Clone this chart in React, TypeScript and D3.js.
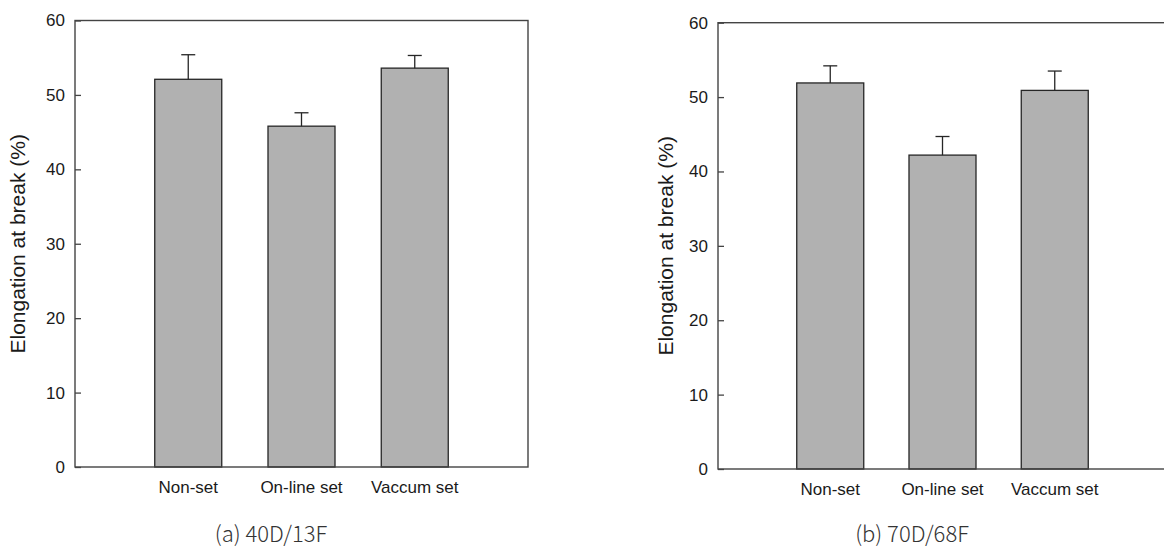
import React, { useEffect, useRef } from 'react';
import * as d3 from 'd3';

const categories = ['Non-set', 'On-line set', 'Vaccum set'];
const meansA = [52.1, 45.8, 53.6];
const errorsA = [3.3, 1.8, 1.7];
const meansB = [51.9, 42.2, 50.9];
const errorsB = [2.3, 2.5, 2.6];
const yTicks = [0, 10, 20, 30, 40, 50, 60];
const yTitle = 'Elongation at break (%)';
const captions = ['(a) 40D/13F', '(b) 70D/68F'];

const W = 1164;
const H = 547;

type Panel = {
  left: number; right: number; top: number; bottom: number;
  means: number[]; errors: number[]; caption: string; captionX: number; titleX: number;
};

const panels: Panel[] = [
  { left: 75, right: 528, top: 20.5, bottom: 467, means: meansA, errors: errorsA, caption: captions[0], captionX: 271, titleX: 25 },
  { left: 718, right: 1167, top: 22.7, bottom: 469, means: meansB, errors: errorsB, caption: captions[1], captionX: 912, titleX: 673 },
];

const App = () => {
  const svgRef = useRef<SVGSVGElement>(null);

  useEffect(() => {
    const svg = d3.select(svgRef.current);
    svg.selectAll('*').remove();
    const font = '"Liberation Sans", Arial, sans-serif';

    panels.forEach(p => {
      const g = svg.append('g');
      const x = d3.scalePoint<string>().domain(categories).range([p.left, p.right]).padding(1);
      const y = d3.scaleLinear().domain([0, 60]).range([p.bottom, p.top]);
      const barW = 67;

      // bars
      g.selectAll('rect.bar')
        .data(p.means)
        .join('rect')
        .attr('x', (d, i) => x(categories[i])! - barW / 2)
        .attr('y', d => y(d))
        .attr('width', barW)
        .attr('height', d => y(0) - y(d))
        .attr('fill', '#b1b1b1')
        .attr('stroke', '#262626')
        .attr('stroke-width', 1.3);

      // error bars (upper only)
      p.means.forEach((m, i) => {
        const cx = x(categories[i])!;
        g.append('line')
          .attr('x1', cx).attr('x2', cx)
          .attr('y1', y(m)).attr('y2', y(m + p.errors[i]))
          .attr('stroke', '#262626').attr('stroke-width', 1.3);
        g.append('line')
          .attr('x1', cx - 7).attr('x2', cx + 7)
          .attr('y1', y(m + p.errors[i])).attr('y2', y(m + p.errors[i]))
          .attr('stroke', '#262626').attr('stroke-width', 1.3);
      });

      // frame
      g.append('rect')
        .attr('x', p.left).attr('y', p.top)
        .attr('width', p.right - p.left).attr('height', p.bottom - p.top)
        .attr('fill', 'none').attr('stroke', '#444').attr('stroke-width', 1.4);

      // y axis, ticks pointing inward
      const yAxis = d3.axisLeft(y).tickValues(yTicks).tickSize(-6).tickPadding(10).tickFormat(d3.format('d'));
      const ax = g.append('g').attr('transform', `translate(${p.left},0)`).call(yAxis);
      ax.select('.domain').remove();
      ax.selectAll('line').attr('stroke', '#444').attr('stroke-width', 1.3);
      ax.selectAll('text')
        .attr('font-family', font)
        .attr('font-size', 17)
        .attr('fill', '#1a1a1a');

      // category labels
      g.selectAll('text.cat')
        .data(categories)
        .join('text')
        .attr('x', d => x(d)!)
        .attr('y', p.bottom + 26)
        .attr('text-anchor', 'middle')
        .attr('font-family', font)
        .attr('font-size', 17)
        .attr('fill', '#1a1a1a')
        .text(d => d);

      // y title
      g.append('text')
        .attr('transform', `translate(${p.titleX},${(p.top + p.bottom) / 2}) rotate(-90)`)
        .attr('text-anchor', 'middle')
        .attr('font-family', font)
        .attr('font-size', 21)
        .attr('fill', '#1a1a1a')
        .text(yTitle);

      // caption
      g.append('text')
        .attr('x', p.captionX)
        .attr('y', 542)
        .attr('text-anchor', 'middle')
        .attr('font-family', '"Noto Sans CJK KR", "Noto Sans", sans-serif')
        .attr('font-weight', 300)
        .attr('font-size', 22)
        .attr('fill', '#333')
        .text(p.caption);
    });
  }, []);

  return (
    <svg
      ref={svgRef}
      width={W}
      height={H}
      style={{ position: 'absolute', left: 0, top: 0, background: '#fff' }}
    />
  );
};

export default App;
